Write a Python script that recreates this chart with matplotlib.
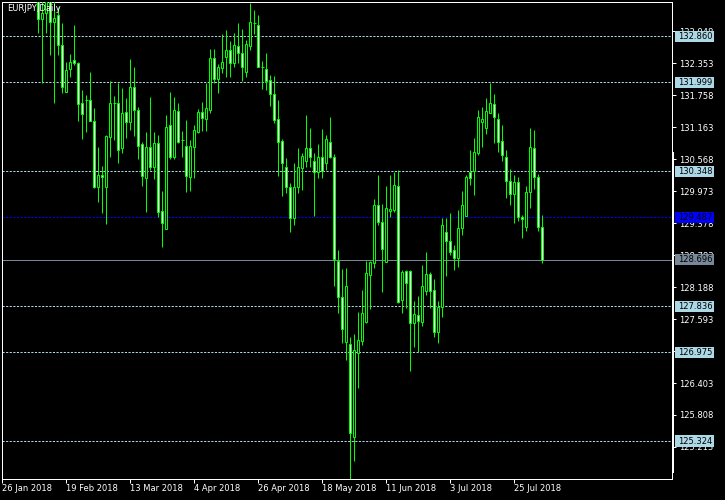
import matplotlib
matplotlib.use("Agg")
import matplotlib.pyplot as plt
import pandas as pd
from matplotlib.patches import Rectangle
from matplotlib.transforms import blended_transform_factory
from matplotlib import font_manager

# ---------------- data ----------------
symbol_title = "EURJPY,Daily"
first_date = "2018-01-26"
n_bars = 136
first_visible = 9  # bars before this are above the visible price range

opens = [
    133.65, 133.170, 133.282, 133.62, 133.127, 133.251, 132.693, 131.812, 132.240, 132.407,
    132.352, 131.607, 131.669, 131.669, 131.272, 130.057, 130.274, 130.044, 130.987, 131.607,
    131.607, 130.770, 131.440, 131.266, 131.905, 131.483, 130.851, 130.212, 130.789, 130.416,
    130.863, 129.604, 129.263, 131.198, 130.615, 131.465, 130.925, 130.813, 130.243, 130.789,
    131.080, 131.440, 131.310, 131.483, 132.445, 132.054, 132.259, 132.463, 132.600, 132.364,
    132.674, 132.538, 132.197, 132.680, 133.096, 133.065, 132.277, 132.240, 132.041, 131.775,
    131.310, 130.906, 130.416, 130.057, 129.467, 130.044, 130.398, 130.540, 130.770, 130.540,
    130.323, 130.615, 130.491, 130.894, 130.602, 128.680, 128.010, 127.173, 127.123, 125.405,
    126.968, 127.179, 127.532, 128.419, 128.630, 129.709, 129.393, 128.661, 129.610, 129.623,
    130.069, 127.948, 128.488, 128.488, 127.514, 127.669, 127.545, 128.122, 128.432, 128.134,
    127.359, 127.811, 129.207, 129.052, 128.878, 128.736, 129.281, 129.517, 130.336, 130.348,
    130.689, 131.266, 131.154, 131.434, 131.589, 131.310, 130.906, 130.602, 130.168, 129.914,
    130.137, 129.498, 129.300, 129.951, 130.770, 130.243, 129.312]
highs = [
    133.90, 133.60, 133.80, 133.75, 133.55, 133.406, 133.108, 132.383, 132.525, 133.065,
    132.383, 131.855, 131.762, 132.197, 131.514, 130.801, 130.441, 131.018, 132.023, 131.744,
    131.992, 131.899, 131.713, 132.426, 132.283, 131.545, 130.894, 131.080, 131.731, 131.080,
    131.018, 129.982, 131.390, 131.818, 131.731, 131.620, 131.099, 131.297, 130.925, 131.204,
    131.502, 131.626, 131.992, 132.612, 132.612, 132.339, 132.897, 132.972, 132.767, 132.910,
    133.096, 132.984, 132.786, 133.480, 133.344, 133.251, 132.395, 132.538, 132.135, 132.116,
    131.669, 130.937, 130.584, 130.119, 130.491, 130.770, 130.677, 131.390, 131.142, 130.677,
    130.851, 131.130, 131.018, 131.347, 130.664, 128.878, 128.518, 128.543, 127.266, 127.315,
    127.731, 128.134, 128.680, 128.680, 129.827, 130.274, 129.734, 130.069, 130.274, 130.336,
    130.367, 128.506, 128.506, 128.506, 127.929, 128.022, 128.599, 128.841, 128.469, 128.339,
    127.929, 129.480, 129.480, 129.561, 128.971, 129.623, 129.976, 130.274, 130.739, 130.956,
    131.483, 131.533, 131.700, 131.992, 131.781, 131.421, 131.204, 130.739, 130.385, 130.268,
    130.243, 129.523, 130.075, 131.142, 131.111, 130.286, 129.523]
lows = [
    132.922, 131.979, 132.910, 132.507, 131.607, 132.507, 131.806, 131.812, 132.104, 132.321,
    131.285, 130.937, 131.080, 131.272, 130.030, 129.765, 129.561, 129.356, 130.603, 130.925,
    130.503, 130.677, 130.956, 131.111, 131.006, 130.565, 130.075, 129.592, 130.367, 130.193,
    129.499, 128.940, 129.263, 130.565, 130.572, 130.863, 130.615, 129.964, 129.982, 130.224,
    131.049, 131.092, 131.092, 131.421, 131.992, 131.806, 132.166, 132.104, 132.104, 132.290,
    132.352, 132.023, 132.104, 132.600, 132.897, 132.290, 131.874, 131.855, 131.558, 131.248,
    130.255, 129.883, 129.945, 129.219, 129.343, 129.933, 129.995, 130.416, 130.429, 129.511,
    130.224, 130.224, 130.367, 130.584, 128.215, 127.712, 127.142, 126.831, 124.617, 124.958,
    126.317, 127.111, 127.514, 127.780, 128.549, 129.343, 128.103, 128.661, 129.498, 129.592,
    127.886, 127.700, 127.805, 126.633, 127.080, 126.987, 127.470, 128.041, 127.793, 127.253,
    127.142, 127.638, 128.401, 128.785, 128.506, 128.568, 129.157, 129.517, 130.088, 129.902,
    130.646, 130.789, 131.037, 131.434, 130.875, 130.708, 130.540, 129.852, 129.716, 129.387,
    129.424, 129.108, 129.232, 129.666, 130.013, 129.232, 128.630]
closes = [
    133.170, 133.282, 133.62, 133.127, 133.189, 132.693, 131.905, 132.228, 132.383, 132.352,
    131.589, 131.403, 131.657, 131.272, 130.044, 130.274, 130.243, 130.999, 131.607, 131.595,
    130.739, 131.421, 131.266, 131.905, 131.483, 130.820, 130.261, 130.789, 130.429, 130.863,
    129.592, 129.387, 131.161, 130.615, 131.483, 130.882, 130.913, 130.261, 130.813, 131.111,
    131.440, 131.328, 131.514, 132.445, 132.060, 132.277, 132.370, 132.600, 132.364, 132.687,
    132.538, 132.290, 132.711, 133.114, 133.077, 132.290, 132.271, 132.029, 131.775, 131.297,
    130.894, 130.491, 130.057, 129.467, 130.044, 130.416, 130.627, 130.770, 130.615, 130.336,
    130.615, 130.354, 130.937, 130.615, 128.717, 128.010, 127.414, 128.208, 125.479, 127.017,
    127.204, 127.700, 128.444, 128.649, 129.709, 129.405, 128.891, 129.654, 129.641, 130.088,
    127.917, 128.475, 128.258, 127.514, 127.687, 127.563, 128.208, 128.432, 128.122, 127.359,
    127.811, 129.343, 129.052, 128.847, 128.736, 129.281, 129.709, 130.230, 130.212, 130.708,
    131.347, 131.310, 131.471, 131.607, 131.347, 130.894, 130.640, 130.168, 129.914, 130.137,
    129.498, 129.449, 129.951, 130.789, 130.243, 129.312, 128.696]

level_prices = [132.860, 131.999, 130.348, 127.836, 126.975, 125.324]
alert_price = 129.487
bid_price = 128.696
price_ticks = [125.213, 125.808, 126.403, 126.998, 127.593, 128.188, 128.783,
               129.378, 129.973, 130.568, 131.163, 131.758, 132.353, 132.948]
date_tick_bars = [0, 16, 32, 48, 64, 80, 96, 112, 128]
y_range = (124.617, 133.493)
x_range = (-0.075, 167.425)

# ---------------- style ----------------
names = {f.name for f in font_manager.fontManager.ttflist}
FONT = ["Liberation Sans Narrow", "DejaVu Sans"] if "Liberation Sans Narrow" in names else ["DejaVu Sans"]
FS = 7.5 if "Liberation Sans Narrow" in names else 6.0
plt.rcParams["font.family"] = FONT

BG = "#000000"
FG = "#FFFFFF"
LIME = "#00FF00"
LEVEL = "#ADD8E6"
ALERT = "#0000FF"
BID = "#778899"
PX = 0.72  # one pixel in points at 100 dpi

fig = plt.figure(figsize=(7.25, 5.0), dpi=100, facecolor=BG)
ax = fig.add_axes([2 / 725, 21 / 500, 670 / 725, 477 / 500], facecolor=BG)
ax.set_xlim(*x_range)
ax.set_ylim(*y_range)

# candles
xs = list(range(first_visible, first_visible + len(opens)))
ax.vlines(xs, lows, highs, color=LIME, linewidth=PX, zorder=3)
for x, o, c in zip(xs, opens, closes):
    bottom = min(o, c)
    h = abs(c - o)
    face = FG if c < o else BG
    if h < 0.02:
        ax.hlines(o, x - 0.3, x + 0.3, color=LIME, linewidth=PX, zorder=4)
    else:
        ax.bar(x, h, bottom=bottom, width=0.5, color=face, edgecolor=LIME,
               linewidth=PX, zorder=4)

# horizontal levels
for p in level_prices:
    ax.axhline(p, color=LEVEL, linewidth=PX, dashes=(3 * PX, 2 * PX), zorder=2)
ax.axhline(alert_price, color=ALERT, linewidth=PX, dashes=(3 * PX, 2 * PX), zorder=2)
ax.axhline(bid_price, color=BID, linewidth=PX, zorder=2)

# axes frame
for s in ax.spines.values():
    s.set_color(FG)
    s.set_linewidth(PX)

# right price scale
ax.yaxis.tick_right()
ax.set_yticks(price_ticks)
ax.set_yticklabels([f"{p:.3f}" for p in price_ticks])
ax.tick_params(axis="y", colors=FG, length=4 * PX, width=PX, pad=2, labelsize=FS)

# bottom date scale
dates = pd.bdate_range(first_date, periods=n_bars)
ax.set_xticks(date_tick_bars)
ax.set_xticklabels([f"{dates[i].day} {dates[i].strftime('%b %Y')}" for i in date_tick_bars],
                   ha="left")
ax.tick_params(axis="x", colors=FG, length=4 * PX, width=PX, pad=1, labelsize=FS)

# price labels on the scale
tr = blended_transform_factory(ax.transAxes, ax.transData)
box_x = 673 / 670
box_w = 39 / 670
box_h = 0.205
def tag(price, face):
    ax.add_patch(Rectangle((box_x, price - box_h / 2), box_w, box_h, transform=tr,
                           facecolor=face, edgecolor="none", clip_on=False, zorder=10))
    ax.text(676 / 670, price, f"{price:.3f}", transform=tr, color="#000000",
            fontsize=FS, ha="left", va="center", clip_on=False, zorder=11)
for p in level_prices:
    tag(p, LEVEL)
tag(alert_price, ALERT)
tag(bid_price, BID)

# white marker strip along the scale
ax.add_patch(Rectangle((669.7 / 670, 6 / 477), 2 / 670, 321 / 477, transform=ax.transAxes,
                       facecolor=FG, edgecolor="none", clip_on=False, zorder=9))

# title
ax.text(5 / 670, 1 - 2 / 477, symbol_title, transform=ax.transAxes, color=FG,
        fontsize=FS, ha="left", va="top", zorder=12)

fig.savefig("out.png", dpi=100, facecolor=BG)
